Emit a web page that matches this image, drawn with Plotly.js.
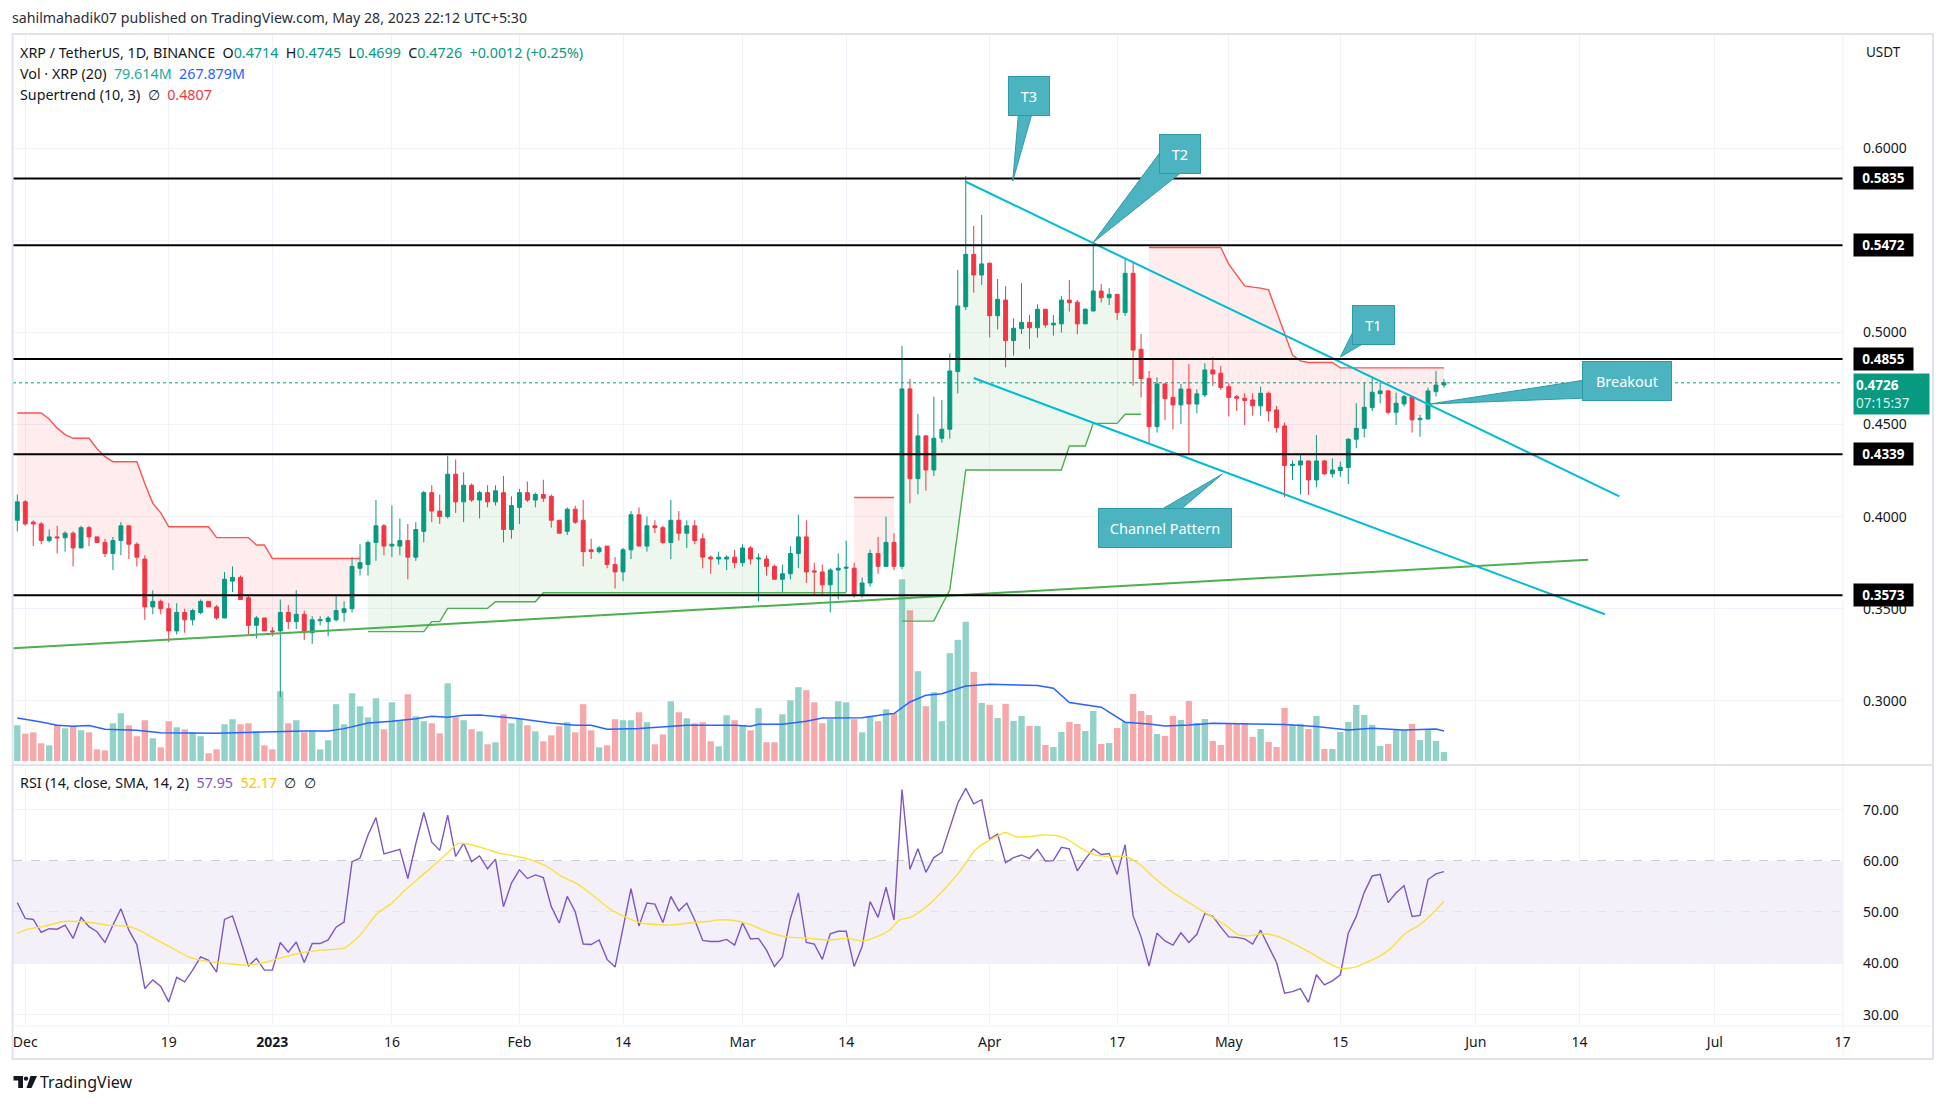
<!DOCTYPE html>
<html><head><meta charset="utf-8">
<script src="https://cdn.plot.ly/plotly-3.0.1.min.js"></script>
<style>html,body{margin:0;padding:0;background:#fff}#chart{width:1946px;height:1104px}</style>
</head><body><div id="chart"></div>
<script>
// ---------- DATA (daily candles from 2022-11-30, day index 0) ----------
const openP = [
.398,.408,.397,.396,.387,.389,.3885,.391,.383,.394,
.389,.386,.380,.387,.395,.385,.377,.351,.354,.350,
.338,.348,.344,.348,.354,.351,.345,.365,.367,.356,
.341,.345,.338,.338,.348,.343,.347,.337,.3435,.343,
.344,.348,.350,.372,.374,.386,.395,.384,.384,.387,
.378,.392,.413,.403,.400,.423,.408,.417,.409,.413,
.408,.413,.393,.405,.413,.409,.412,.411,.398,.392,
.404,.398,.382,.381,.384,.374,.370,.382,.401,.384,
.395,.394,.386,.398,.391,.395,.388,.378,.377,.377,
.378,.375,.383,.377,.377,.373,.366,.369,.380,.389,
.3705,.370,.363,.371,.372,.372,.358,.364,.380,.373,
.386,.373,.4693,.4206,.4438,.4253,.4425,.4474,.4787,.5139,
.5423,.5311,.5375,.5090,.5175,.4955,.5020,.5054,.5025,.5125,
.5040,.5046,.5175,.5163,.5046,.5116,.5224,.5188,.5206,.5107,
.5320,.4908,.4750,.4488,.4720,.4647,.4606,.4692,.4611,.4660,
.4796,.4778,.4705,.4651,.4642,.4633,.4601,.4669,.4579,.4492,
.4277,.4280,.4302,.4199,.4302,.4232,.4250,.4266,.4420,.4479,
.4591,.4667,.4682,.4566,.4611,.4651,.4526,.4530,.4678,.4714];
const highP = [
.412,.409,.398,.397,.393,.395,.392,.392,.395,.395,
.389,.388,.389,.397,.395,.386,.379,.360,.355,.353,
.353,.350,.350,.355,.354,.352,.370,.373,.368,.357,
.346,.345,.340,.355,.352,.360,.349,.346,.346,.346,
.358,.354,.378,.385,.387,.409,.396,.406,.399,.396,
.397,.414,.417,.412,.433,.431,.424,.418,.414,.417,
.417,.422,.411,.415,.419,.413,.420,.412,.398,.405,
.406,.409,.388,.384,.384,.378,.383,.403,.405,.400,
.398,.395,.409,.403,.398,.398,.391,.379,.381,.379,
.382,.385,.384,.380,.379,.374,.374,.384,.401,.398,
.375,.374,.372,.380,.387,.375,.367,.382,.389,.400,
.391,.4926,.4747,.4557,.4440,.4651,.4633,.4886,.5338,.5848,
.5577,.5637,.5378,.5289,.5251,.5076,.5266,.5094,.5152,.5127,
.5094,.5197,.5284,.5175,.5130,.5468,.5262,.5240,.5208,.5396,
.5378,.4991,.4790,.4756,.4722,.4853,.4720,.4828,.4691,.4832,
.4865,.4818,.4724,.4660,.4669,.4669,.4705,.4678,.4601,.4510,
.4304,.4340,.4302,.4443,.4307,.4316,.4298,.4425,.4615,.4727,
.4754,.4727,.4687,.4673,.4660,.4651,.4552,.4700,.4790,.4745];
const lowP = [
.392,.395,.384,.385,.386,.380,.381,.373,.383,.384,
.386,.378,.371,.379,.377,.373,.344,.347,.347,.332,
.336,.337,.341,.347,.351,.344,.345,.359,.355,.336,
.334,.338,.335,.302,.339,.339,.333,.331,.341,.335,
.343,.343,.348,.368,.368,.376,.379,.378,.379,.366,
.376,.386,.397,.396,.399,.402,.397,.408,.399,.405,
.406,.386,.388,.396,.408,.405,.408,.394,.391,.390,
.396,.373,.377,.380,.372,.361,.365,.377,.384,.381,
.391,.385,.377,.387,.383,.385,.372,.369,.374,.371,
.372,.373,.374,.354,.368,.366,.359,.366,.372,.364,
.357,.358,.348,.355,.359,.356,.356,.362,.369,.373,
.371,.3715,.4072,.4121,.4141,.4220,.4401,.4423,.4669,.5120,
.5215,.5257,.4973,.5016,.4810,.4873,.4991,.4910,.4971,.5025,
.4982,.4998,.5112,.4989,.5046,.5112,.5161,.5148,.5067,.5090,
.4711,.4647,.4398,.4456,.4524,.4474,.4503,.4334,.4561,.4648,
.4709,.4687,.4543,.4573,.4497,.4548,.4548,.4516,.4456,.4105,
.4199,.4121,.4118,.4159,.4226,.4212,.4217,.4176,.4371,.4429,
.4573,.4615,.4555,.4497,.4597,.4456,.4434,.4525,.4651,.4699];
const closeP = [
.408,.396,.396,.387,.389,.3885,.391,.383,.394,.389,
.386,.380,.387,.395,.385,.378,.351,.354,.350,.338,
.348,.344,.349,.354,.351,.345,.366,.367,.355,.341,
.345,.338,.3375,.348,.343,.347,.337,.344,.344,.345,
.349,.350,.373,.375,.386,.395,.384,.385,.387,.378,
.393,.413,.403,.400,.423,.408,.417,.409,.413,.408,
.414,.393,.406,.413,.409,.412,.410,.398,.391,.404,
.397,.381,.381,.383,.374,.370,.382,.401,.384,.395,
.394,.386,.398,.391,.395,.387,.378,.377,.378,.378,
.375,.383,.377,.3775,.373,.366,.369,.380,.389,.370,
.370,.363,.371,.372,.3725,.358,.364,.380,.373,.386,
.373,.4693,.4206,.4438,.4253,.4425,.4474,.4790,.5143,.5423,
.5311,.5371,.5090,.5179,.4955,.5022,.5054,.5025,.5125,.5040,
.5049,.5175,.5161,.5046,.5125,.5224,.5188,.5206,.5107,.5320,
.4904,.4749,.4488,.4720,.4640,.4606,.4692,.4611,.4666,.4796,
.4774,.4700,.4646,.4642,.4630,.4601,.4669,.4573,.4483,.4277,
.4284,.4302,.4199,.4302,.4232,.4253,.4268,.4420,.4479,.4593,
.4675,.4682,.4566,.4615,.4651,.4525,.4533,.4682,.4714,.4726];
// volume in millions of XRP
const volumeM = [
319,244,256,158,140,325,292,310,274,256,
104,95,337,426,319,221,364,203,122,355,
301,283,256,221,69,104,328,373,328,337,
265,140,104,623,337,364,256,265,104,185,
507,328,605,489,390,560,283,524,355,596,
399,355,337,247,694,390,364,283,265,149,
167,417,337,373,319,265,176,229,310,346,
256,507,274,122,140,373,364,364,435,346,
149,238,533,435,381,337,346,176,131,408,
364,319,274,471,167,167,417,542,659,632,
524,337,373,533,524,373,256,399,355,462,
426,1624,1347,802,489,614,355,963,1082,1243,
796,519,501,384,510,358,402,313,313,143,
125,259,349,331,268,447,152,161,295,349,
599,447,411,241,224,402,367,536,340,375,
179,143,340,340,340,215,286,170,125,474,
322,331,286,402,107,107,259,349,501,411,
322,134,152,277,277,331,188,286,179,79.614];
const volMaDay = [0,2,3,5,7,9,11,15,18,25,30,32,36,39,41,44,47,50,52,54,56,58,61,63,67,70,72,74,78,81,84,86,90,92,93,96,99,101,104,106,109,110,112,114,116,119,122,128,130,132,136,139,142,144,147,150,155,159,163,167,170,174,178,179];
const volMaVal = [384,364,349,319,310,316,283,274,253,247,259,259,268,268,289,340,355,378,399,390,408,411,393,378,340,319,319,283,289,304,319,319,319,310,328,328,355,384,387,387,417,423,527,587,600,670,685,673,650,522,480,346,331,313,322,337,331,325,307,277,292,277,286,267.879];
// Supertrend (10,3) segments
const stSegStart = [0, 44, 105, 111, 142];
const stSegUp = [false, true, false, true, false];
const stRed1 = [0.4562,0.4562,0.4562,0.4562,0.4530,0.4480,0.4445,0.4425,0.4425,0.4425,0.4368,0.4325,0.4298,0.4298,0.4298,0.4298,0.4180,0.4072,0.4020,0.3945,0.3945,0.3945,0.3945,0.3945,0.3945,0.3886,0.3886,0.3886,0.3886,0.3886,0.3846,0.3846,0.3773,0.3773,0.3773,0.3773,0.3773,0.3773,0.3773,0.3773,0.3773,0.3773,0.3773,0.3773];
const stGreen1 = [0.3376,0.3376,0.3376,0.3376,0.3376,0.3376,0.3376,0.3376,0.3430,0.3430,0.3502,0.3502,0.3502,0.3502,0.3502,0.3502,0.3538,0.3538,0.3538,0.3538,0.3538,0.3538,0.3587,0.3587,0.3587,0.3587,0.3587,0.3587,0.3587,0.3587,0.3587,0.3587,0.3587,0.3587,0.3587,0.3587,0.3587,0.3587,0.3587,0.3587,0.3587,0.3587,0.3587,0.3587,0.3587,0.3587,0.3587,0.3587,0.3587,0.3587,0.3587,0.3587,0.3587,0.3587,0.3587,0.3587,0.3587,0.3587,0.3587,0.3587,0.3587];
const stRed2 = [0.4104,0.4104,0.4104,0.4104,0.4104,0.4104];
const stGreen2 = [0.3433,0.3433,0.3433,0.3433,0.3433,0.3520,0.3602,0.3920,0.4253,0.4253,0.4253,0.4253,0.4253,0.4253,0.4253,0.4253,0.4253,0.4253,0.4253,0.4253,0.4253,0.4383,0.4383,0.4383,0.4506,0.4506,0.4506,0.4506,0.4555,0.4555,0.4555];
const stRed3 = [0.546,0.546,0.546,0.546,0.546,0.546,0.546,0.546,0.546,0.546,0.537,0.531,0.5252,0.5245,0.524,0.523,0.511,0.499,0.4877,0.4845,0.4836,0.4836,0.4836,0.4836,0.4807,0.4807,0.4807,0.4807,0.4807,0.4807,0.4807,0.4807,0.4807,0.4807,0.4807,0.4807,0.4807,0.4807];
// RSI (14) and its SMA (14)
const rsiVal = [
51.9,48.8,48.6,46.1,46.8,46.7,47.5,44.9,49.0,47.2,
46.2,44.1,47.5,50.7,46.5,43.7,35.1,36.8,35.5,32.5,
37.3,36.4,38.7,41.3,40.6,38.3,48.6,49.3,44.6,39.5,
41.0,38.7,38.7,44.1,42.2,44.2,40.2,43.9,43.9,44.6,
47.1,48.1,59.9,60.6,65.1,68.5,61.4,61.9,62.3,56.6,
63.4,69.5,63.7,62.1,69.0,60.9,63.5,59.9,61.0,58.5,
60.4,51.1,55.7,58.3,56.6,57.3,56.8,51.1,47.9,53.1,
50.1,43.8,43.7,44.6,40.8,39.3,47.2,54.6,47.3,51.8,
51.6,48.0,53.1,50.3,51.8,48.5,44.5,44.3,44.3,44.7,
43.6,47.9,44.8,44.9,42.6,39.4,41.3,48.8,53.8,44.1,
43.8,40.8,45.8,46.3,46.3,39.4,43.3,52.1,49.0,54.9,
48.5,74.0,58.4,62.4,57.8,60.7,61.7,66.4,71.3,74.2,
71.2,72.0,64.3,65.3,59.7,60.7,61.2,60.5,62.3,60.0,
60.1,62.7,62.4,58.1,60.4,62.4,61.3,61.5,57.4,63.2,
49.3,45.2,39.5,45.9,44.4,43.6,46.0,44.1,45.7,49.8,
49.2,47.1,45.2,45.1,44.8,43.8,46.5,43.3,40.2,34.2,
34.5,35.1,32.4,37.8,35.8,36.6,37.8,45.9,49.2,53.9,
57.1,57.4,51.9,53.8,55.2,49.2,49.4,56.4,57.5,57.95];
const rsiSmaDay = [0,1.4,3.2,5.8,7.6,9.7,11.4,13.8,15,16.8,19.1,21.5,23.9,26.2,28.6,31,33.3,35.7,38.1,41,42.8,45.2,47,48.7,51.1,53.5,55.3,56.4,58.8,60.6,62.4,64.1,66.5,68.3,70.1,72.4,74.2,76,78.3,81.9,84.3,86.6,87.8,89.4,91.8,94.1,96.5,99.5,101.8,104.2,106,107.8,109.5,110.7,112.2,114.3,116.6,118.4,120.2,122,124,125.2,127.3,128.5,130.3,131.7,133.5,135.3,137.1,139.1,140.9,142.4,144.8,146.8,149.2,151.6,153.1,154.5,156.3,158.1,160.5,162.8,164.6,166.1,167.9,169.4,171.1,172.3,174.1,175.9,177.6,179];
const rsiSmaVal = [45.9,46.7,47.2,48.2,48.2,47.9,47.5,47.3,46.7,45.2,43.3,41.3,40.4,40.0,39.7,40.2,41.2,42.1,42.6,43.0,45.2,49.8,51.8,54.4,57.6,60.9,63.4,63.4,62.4,61.5,61.0,60.4,58.9,57.0,55.7,53.1,50.8,49.3,47.9,47.5,47.9,48.2,48.5,48.5,47.7,46.2,45.2,44.9,44.6,44.9,44.4,45.2,46.6,48.5,49.1,51.4,55.0,58.3,62.2,64.1,65.6,64.8,64.8,65.1,65.0,64.3,62.5,61.2,60.9,60.9,59.3,57.1,54.1,52.1,49.8,47.5,45.7,45.4,45.8,45.3,43.6,41.6,40.0,39.0,39.3,40.3,41.6,42.9,45.8,47.5,49.8,52.17];
// horizontal levels, axis ticks
const levels = [0.5835, 0.5472, 0.4855, 0.4339, 0.3573];
const priceTicks = [0.30, 0.35, 0.40, 0.45, 0.50, 0.55, 0.60];
const rsiTicks = [30, 40, 50, 60, 70];
const tickDays = [1, 19, 32, 47, 63, 76, 91, 104, 122, 138, 152, 166, 183, 196, 213, 229];
const tickLabels = ['Dec','19','2023','16','Feb','14','Mar','14','Apr','17','May','15','Jun','14','Jul','17'];

// ---------- LAYOUT GEOMETRY ----------
const W = 1946, H = 1104, ML = 13, MR = 103, MT = 34, MB = 79;
const PW = W - ML - MR, PH = H - MT - MB;
const PX = px => (px - ML) / PW;
const PY = py => (H - MB - py) / PH;
const FONT = 'Noto Sans, Open Sans, sans-serif';
const TXT = '#131722';
const days = openP.map((_, i) => i);
const n = days.length;

const traces = [];
// volume
traces.push({type: 'bar', x: days, y: volumeM, xaxis: 'x', yaxis: 'y', width: 0.8,
  marker: {color: days.map(i => closeP[i] >= openP[i] ? '#92d2c8' : '#f7a8aa'), line: {width: 0}},
  hoverinfo: 'skip'});
traces.push({type: 'scatter', mode: 'lines', x: volMaDay, y: volMaVal, xaxis: 'x', yaxis: 'y',
  line: {color: '#2962ff', width: 1.5}, hoverinfo: 'skip'});
// supertrend with fills toward candle body middle
const stSegs = [stRed1, stGreen1, stRed2, stGreen2, stRed3];
stSegs.forEach((vals, k) => {
  const xs = vals.map((_, j) => stSegStart[k] + j);
  const mids = xs.map(i => (openP[i] + closeP[i]) / 2);
  const up = stSegUp[k];
  traces.push({type: 'scatter', mode: 'lines', x: xs, y: mids, xaxis: 'x', yaxis: 'y2',
    line: {width: 0, color: 'rgba(0,0,0,0)'}, hoverinfo: 'skip'});
  traces.push({type: 'scatter', mode: 'lines', x: xs, y: vals, xaxis: 'x', yaxis: 'y2',
    line: {color: up ? '#4caf50' : '#ff5252', width: 1.4}, fill: 'tonexty',
    fillcolor: up ? 'rgba(76,175,80,0.10)' : 'rgba(255,82,82,0.11)', hoverinfo: 'skip'});
});
// candles
traces.push({type: 'candlestick', x: days, open: openP, high: highP, low: lowP, close: closeP,
  xaxis: 'x', yaxis: 'y3', whiskerwidth: 0,
  increasing: {line: {color: '#089981', width: 1}, fillcolor: '#089981'},
  decreasing: {line: {color: '#f23645', width: 1}, fillcolor: '#f23645'},
  hoverinfo: 'skip'});
// RSI
traces.push({type: 'scatter', mode: 'lines', x: days, y: rsiVal, xaxis: 'x', yaxis: 'y4',
  line: {color: '#7e57c2', width: 1.4}, hoverinfo: 'skip'});
traces.push({type: 'scatter', mode: 'lines', x: rsiSmaDay, y: rsiSmaVal, xaxis: 'x', yaxis: 'y4',
  line: {color: '#fbe03a', width: 1.4, shape: 'spline', smoothing: 0.6}, hoverinfo: 'skip'});

const priceRange = [0.26631, 0.66186];
const mainDomain = [PY(763), 1];
const rsiDomain = [0, PY(767)];

const shapes = [];
// RSI band and guide lines
shapes.push({type: 'rect', xref: 'paper', yref: 'y4', x0: 0, x1: 1, y0: 40, y1: 60,
  fillcolor: 'rgba(126,87,194,0.09)', line: {width: 0}, layer: 'below'});
[[60, '#787b86'], [50, 'rgba(120,123,134,0.55)'], [40, '#787b86']].forEach(([v, c]) =>
  shapes.push({type: 'line', xref: 'paper', yref: 'y4', x0: 0, x1: 1, y0: v, y1: v,
    line: {color: c, width: 1, dash: 'dash'}, layer: 'below'}));
// close price dotted line
shapes.push({type: 'line', xref: 'paper', yref: 'y3', x0: 0, x1: 1, y0: closeP[n - 1], y1: closeP[n - 1],
  line: {color: '#089981', width: 1, dash: 'dot'}});
// trend lines
shapes.push({type: 'line', xref: 'x', yref: 'y3', x0: -0.6, y0: 0.3285, x1: 197.1, y1: 0.3766,
  line: {color: '#4caf50', width: 2}});
shapes.push({type: 'line', xref: 'x', yref: 'y3', x0: 119, y0: 0.5817, x1: 201, y1: 0.4110,
  line: {color: '#00bcd4', width: 2}});
shapes.push({type: 'line', xref: 'x', yref: 'y3', x0: 120, y0: 0.4752, x1: 199.2, y1: 0.3470,
  line: {color: '#00bcd4', width: 2}});
// horizontal levels
levels.forEach(v => shapes.push({type: 'line', xref: 'paper', yref: 'y3', x0: 0, x1: 1, y0: v, y1: v,
  line: {color: '#000000', width: 2}}));
// callout pointers (data coords: day index, price)
const TEAL = '#4bb4c0';
const wedges = [
  [[124.9, 0.5821], [125.7, 0.6230], [127.6, 0.6230]],
  [[135.0, 0.5488], [143.6, 0.5989], [146.1, 0.5870]],
  [[166.0, 0.4866], [167.7, 0.5013], [169.2, 0.4947]],
  [[177.2, 0.4611], [196.7, 0.4741], [196.7, 0.4643]],
  [[151.2, 0.4231], [143.0, 0.4025], [145.6, 0.4025]]
];
wedges.forEach(w => shapes.push({type: 'path', xref: 'x', yref: 'y3',
  path: 'M' + w.map(p => p[0] + ',' + p[1]).join(' L') + ' Z',
  fillcolor: TEAL, line: {color: '#2e9aa9', width: 1}}));
// frame
const frameC = '#e0e3eb';
shapes.push({type: 'rect', xref: 'paper', yref: 'paper', x0: PX(12.6), x1: PX(1933), y0: PY(1059), y1: PY(34),
  line: {color: frameC, width: 2}, fillcolor: 'rgba(0,0,0,0)'});
shapes.push({type: 'line', xref: 'paper', yref: 'paper', x0: PX(1843), x1: PX(1843), y0: PY(1059), y1: PY(34),
  line: {color: '#eef0f4', width: 1}});
shapes.push({type: 'line', xref: 'paper', yref: 'paper', x0: PX(12.6), x1: PX(1933), y0: PY(765), y1: PY(765),
  line: {color: frameC, width: 2}});
shapes.push({type: 'line', xref: 'paper', yref: 'paper', x0: PX(12.6), x1: PX(1933), y0: PY(1026), y1: PY(1026),
  line: {color: '#eef0f4', width: 1}});
// TradingView logo
const lp = pts => 'M' + pts.map(p => PX(p[0]) + ',' + PY(p[1])).join(' L') + ' Z';
shapes.push({type: 'path', xref: 'paper', yref: 'paper', fillcolor: TXT, line: {width: 0},
  path: lp([[13.5,1076],[23,1076],[23,1088],[18.2,1088],[18.2,1080.6],[13.5,1080.6]])});
shapes.push({type: 'circle', xref: 'paper', yref: 'paper', fillcolor: TXT, line: {width: 0},
  x0: PX(23.8), x1: PX(28.2), y0: PY(1080.8), y1: PY(1076.4)});
shapes.push({type: 'path', xref: 'paper', yref: 'paper', fillcolor: TXT, line: {width: 0},
  path: lp([[30.5,1076],[37,1076],[31.5,1088],[26.5,1088]])});

// ---------- ANNOTATIONS ----------
const G = '#089981';
const sp = (t, c) => `<span style="color:${c}">${t}</span>`;
const nb = '&nbsp;&nbsp;';
const last = n - 1;
const chg = closeP[last] - closeP[last - 1];
const chgPct = chg / closeP[last - 1] * 100;
const ann = [];
const txt = (x, y, t, size, extra) => ann.push(Object.assign({xref: 'paper', yref: 'paper', x: PX(x), y: PY(y),
  xanchor: 'left', yanchor: 'middle', text: t, showarrow: false, font: {family: FONT, size: size || 14, color: TXT}}, extra || {}));
txt(10, 18, 'sahilmahadik07 published on TradingView.com, May 28, 2023 22:12 UTC+5:30', 14.2, {font: {family: FONT, size: 14.2, color: '#2a2e39'}});
txt(18, 53, 'XRP / TetherUS, 1D, BINANCE' + nb + 'O' + sp(openP[last].toFixed(4), G) + nb + 'H' + sp(highP[last].toFixed(4), G) +
  nb + 'L' + sp(lowP[last].toFixed(4), G) + nb + 'C' + sp(closeP[last].toFixed(4), G) + nb +
  sp((chg >= 0 ? '+' : '') + chg.toFixed(4) + ' (' + (chg >= 0 ? '+' : '') + chgPct.toFixed(2) + '%)', G), 14.3);
txt(18, 74, 'Vol · XRP (20)' + nb + sp(volumeM[last].toFixed(3) + 'M', '#22ab94') + nb + sp(volMaVal[volMaVal.length - 1].toFixed(3) + 'M', '#2962ff'), 14.3);
txt(18, 95, 'Supertrend (10, 3)' + nb + '∅' + nb + sp(stRed3[stRed3.length - 1].toFixed(4), '#f23645'), 14.3);
txt(18, 782, 'RSI (14, close, SMA, 14, 2)' + nb + sp(rsiVal[last].toFixed(2), '#7e57c2') + nb +
  sp(rsiSmaVal[rsiSmaVal.length - 1].toFixed(2), '#f2c811') + nb + '∅' + nb + '∅', 14.3);
txt(1864, 52, 'USDT', 13.5);
txt(38, 1082, 'TradingView', 16);
// level labels
levels.forEach(v => ann.push({xref: 'paper', yref: 'y3', x: 1, y: v, xanchor: 'left', yanchor: 'middle', xshift: 10,
  text: '<b>' + v.toFixed(4) + '</b>', showarrow: false, bgcolor: '#000000', borderpad: 2, width: 55,
  font: {family: FONT, size: 13.5, color: '#ffffff'}}));
ann.push({xref: 'paper', yref: 'y3', x: 1, y: closeP[last], xanchor: 'left', yanchor: 'top', xshift: 10, yshift: 10,
  text: '<b>' + closeP[last].toFixed(4) + '</b><br><span style="color:#d6f0eb">07:15:37</span>', align: 'left',
  showarrow: false, bgcolor: G, borderpad: 2, width: 71, font: {family: FONT, size: 13.5, color: '#ffffff'}});
// callout boxes
[['T3', 126.9, 0.6282, 36], ['T2', 145.9, 0.5967, 36], ['T1', 170.1, 0.5042, 37],
 ['Breakout', 202.0, 0.4736, 84], ['Channel Pattern', 144.0, 0.3938, 128]].forEach(([t, x, y, w]) =>
  ann.push({xref: 'x', yref: 'y3', x: x, y: y, xanchor: 'center', yanchor: 'middle', text: t, showarrow: false,
    bgcolor: TEAL, bordercolor: '#2e9aa9', borderwidth: 1, borderpad: 2, width: w, height: 34,
    font: {family: FONT, size: 14.5, color: '#ffffff'}}));

const tickFont = {family: FONT, size: 14, color: TXT};
const layout = {
  width: W, height: H, margin: {l: ML, r: MR, t: MT, b: MB},
  paper_bgcolor: '#ffffff', plot_bgcolor: '#ffffff', showlegend: false, hovermode: false,
  xaxis: {domain: [0, 1], range: [-0.54, 229.07], anchor: 'y4', tickmode: 'array', tickvals: tickDays,
    ticktext: tickLabels.map(t => t === '2023' ? '<b>2023</b>' : t), tickfont: tickFont,
    rangeslider: {visible: false},
    showgrid: true, gridcolor: '#f0f3fa', zeroline: false, showline: false, ticks: '', ticklabelstandoff: 7, fixedrange: true},
  yaxis: {domain: mainDomain, range: [-18, 6492], visible: false, fixedrange: true},
  yaxis2: {overlaying: 'y', range: priceRange, visible: false, fixedrange: true},
  yaxis3: {overlaying: 'y', side: 'right', anchor: 'x', range: priceRange, tickmode: 'array', tickvals: priceTicks,
    tickformat: '.4f', showgrid: true, gridcolor: '#f0f3fa', zeroline: false, ticks: '', ticklabelstandoff: 19,
    tickfont: tickFont, fixedrange: true},
  yaxis4: {domain: rsiDomain, range: [27.98, 78.39], side: 'right', anchor: 'x', tickmode: 'array', tickvals: rsiTicks,
    tickformat: '.2f', showgrid: true, gridcolor: '#f0f3fa', zeroline: false, ticks: '', ticklabelstandoff: 19,
    tickfont: tickFont, fixedrange: true},
  shapes: shapes, annotations: ann
};
Plotly.newPlot('chart', traces, layout, {displayModeBar: false, staticPlot: true});
</script>
</body></html>
